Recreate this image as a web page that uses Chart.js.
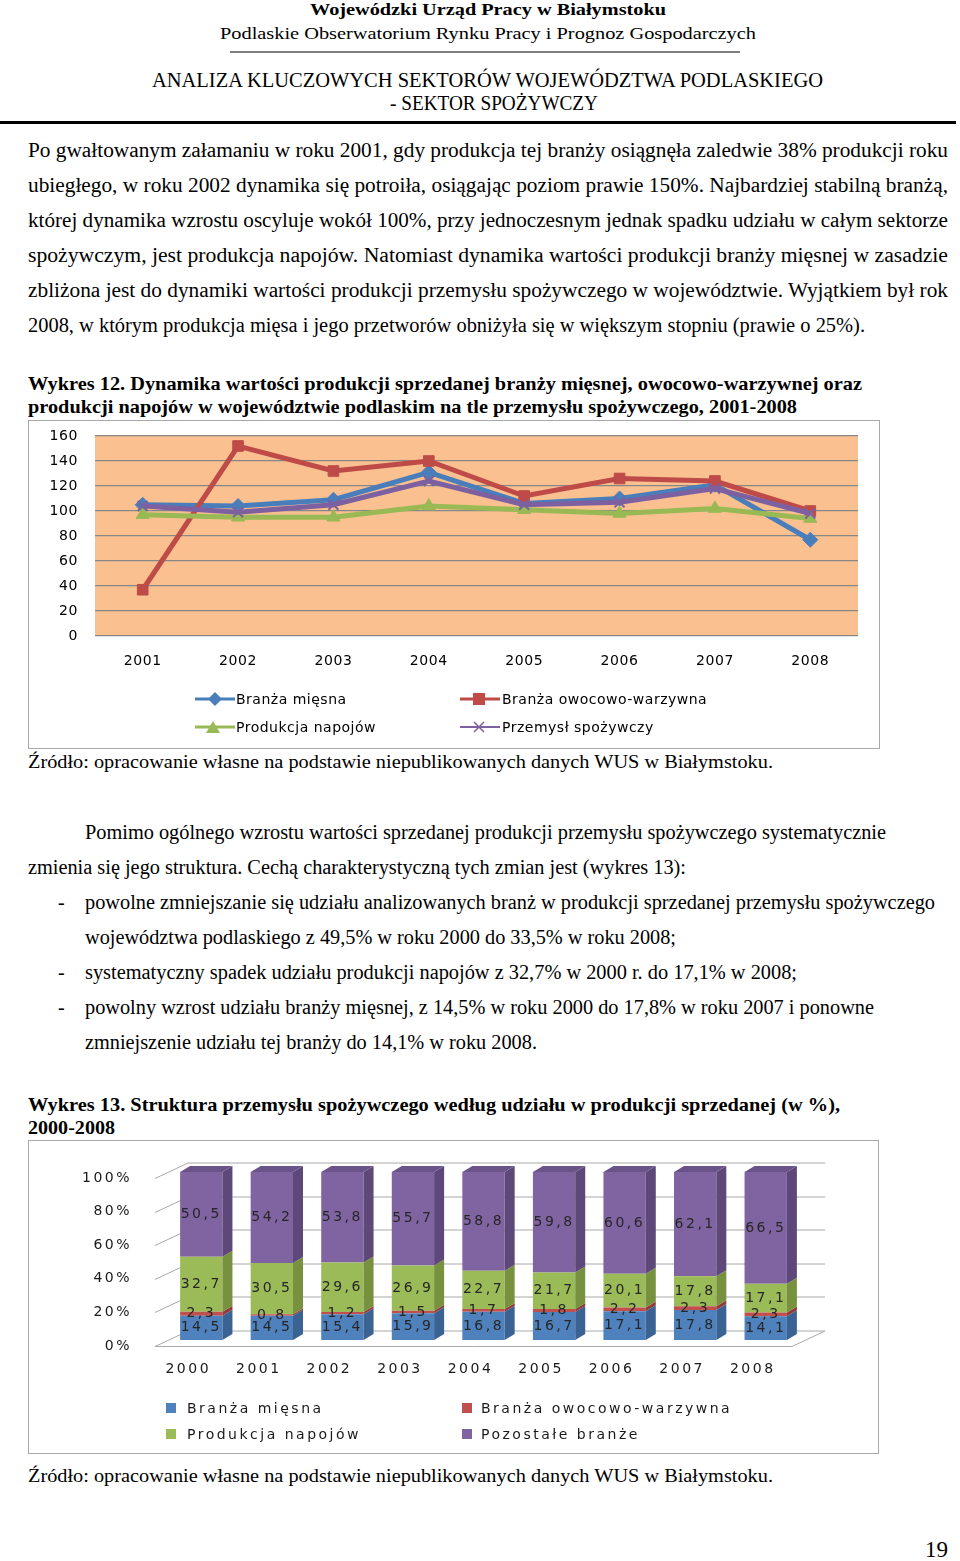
<!DOCTYPE html>
<html lang="pl">
<head>
<meta charset="utf-8">
<title>Wykres 12 i 13</title>
<script src="https://cdn.jsdelivr.net/npm/chart.js@4.4.1/dist/chart.umd.min.js"></script>
<style>
html, body { margin: 0; padding: 0; background: #fff; }
body { width: 960px; height: 1561px; position: relative; overflow: hidden;
       font-family: "Liberation Serif", "Times New Roman", serif; color: #000; }
.t { position: absolute; white-space: nowrap; line-height: 24px; font-size: 20px; transform-origin: 0 50%; }
.h { font-size: 17px; }
.c { font-size: 19px; font-weight: bold; }
.s { font-size: 19px; }
.b17 { font-weight: bold; }
.rule { position: absolute; }
.box { position: absolute; border: 1.5px solid #a9a9a9; box-sizing: border-box; background: #fff; }
.box canvas { position: absolute; left: 0; top: 0; }
.lg { position: absolute; font-family: "DejaVu Sans", sans-serif; font-size: 14px; line-height: 18px; white-space: nowrap; }
.lg1 { letter-spacing: 0.5px; }
.lg2 { letter-spacing: 2.5px; color: #1a1a1a; }
.mk { position: absolute; }
.sq { position: absolute; width: 10px; height: 10px; }
</style>
</head>
<body>

<!-- ========== NAGŁÓWEK ========== -->
<div class="t h b17" style="left:310px;top:-2px" data-w="356">Wojewódzki Urząd Pracy w Białymstoku</div>
<div class="t h" style="left:220px;top:22px" data-w="536">Podlaskie Obserwatorium Rynku Pracy i Prognoz Gospodarczych</div>
<div class="rule" style="left:230px;top:51px;width:510px;height:2px;background:#7f7f7f"></div>
<div class="t" style="left:152px;top:68px" data-w="671">ANALIZA KLUCZOWYCH SEKTORÓW WOJEWÓDZTWA PODLASKIEGO</div>
<div class="t" style="left:390px;top:91px" data-w="208">- SEKTOR SPOŻYWCZY</div>
<div class="rule" style="left:0;top:121px;width:956px;height:3px;background:#000"></div>

<!-- ========== TEKST 1 ========== -->
<div class="t" style="left:28px;top:138px" data-w="920">Po gwałtowanym załamaniu w roku 2001, gdy produkcja tej branży osiągnęła zaledwie 38% produkcji roku</div>
<div class="t" style="left:28px;top:173px" data-w="920">ubiegłego, w roku 2002 dynamika się potroiła, osiągając poziom prawie 150%. Najbardziej stabilną branżą,</div>
<div class="t" style="left:28px;top:208px" data-w="920">której dynamika wzrostu oscyluje wokół 100%, przy jednoczesnym jednak spadku udziału w całym sektorze</div>
<div class="t" style="left:28px;top:243px" data-w="920">spożywczym, jest produkcja napojów. Natomiast dynamika wartości produkcji branży mięsnej w zasadzie</div>
<div class="t" style="left:28px;top:278px" data-w="920">zbliżona jest do dynamiki wartości produkcji przemysłu spożywczego w województwie. Wyjątkiem był rok</div>
<div class="t" style="left:28px;top:313px" data-w="837">2008, w którym  produkcja mięsa i jego przetworów obniżyła się w większym stopniu (prawie o 25%).</div>

<div class="t c" style="left:28px;top:372px" data-w="834">Wykres 12. Dynamika wartości produkcji sprzedanej branży mięsnej, owocowo-warzywnej oraz</div>
<div class="t c" style="left:28px;top:395px" data-w="769">produkcji napojów w województwie podlaskim na tle przemysłu spożywczego, 2001-2008</div>

<!-- ========== WYKRES 12 ========== -->
<div class="box" style="left:28px;top:420px;width:852px;height:329px">
  <canvas id="chart12" width="849" height="326" style="width:849px;height:326px"></canvas>
</div>
<svg class="mk" style="left:194px;top:691px" width="42" height="16"><line x1="1" y1="8" x2="41" y2="8" stroke="#4a7ebb" stroke-width="3"/><polygon points="21,1 28,8 21,15 14,8" fill="#4a7ebb"/></svg>
<div class="lg lg1" style="left:236px;top:690px">Branża mięsna</div>
<svg class="mk" style="left:459px;top:691px" width="42" height="16"><line x1="1" y1="8" x2="41" y2="8" stroke="#be4b48" stroke-width="3"/><rect x="14" y="2" width="12" height="12" fill="#be4b48"/></svg>
<div class="lg lg1" style="left:502px;top:690px">Branża owocowo-warzywna</div>
<svg class="mk" style="left:194px;top:719px" width="42" height="16"><line x1="1" y1="8" x2="41" y2="8" stroke="#98b954" stroke-width="3"/><polygon points="19,2 26,14 12,14" fill="#98b954"/></svg>
<div class="lg lg1" style="left:236px;top:718px">Produkcja napojów</div>
<svg class="mk" style="left:459px;top:719px" width="42" height="16"><line x1="1" y1="8" x2="41" y2="8" stroke="#7d60a0" stroke-width="2"/><path d="M15 3 L25 13 M25 3 L15 13" stroke="#7d60a0" stroke-width="1.5"/></svg>
<div class="lg lg1" style="left:502px;top:718px">Przemysł spożywczy</div>

<div class="t s" style="left:28px;top:750px" data-w="745">Źródło: opracowanie własne na podstawie niepublikowanych danych WUS w Białymstoku.</div>

<!-- ========== TEKST 2 ========== -->
<div class="t" style="left:85px;top:820px" data-w="801">Pomimo ogólnego wzrostu wartości sprzedanej produkcji przemysłu spożywczego systematycznie</div>
<div class="t" style="left:28px;top:855px" data-w="658">zmienia się jego struktura. Cechą charakterystyczną tych zmian jest (wykres 13):</div>
<div class="t" style="left:58px;top:890px">-</div>
<div class="t" style="left:85px;top:890px" data-w="850">powolne zmniejszanie się udziału analizowanych branż w produkcji sprzedanej przemysłu spożywczego</div>
<div class="t" style="left:85px;top:925px" data-w="591">województwa podlaskiego z 49,5% w roku 2000 do 33,5% w roku 2008;</div>
<div class="t" style="left:58px;top:960px">-</div>
<div class="t" style="left:85px;top:960px" data-w="712">systematyczny spadek udziału produkcji napojów z 32,7% w 2000 r. do 17,1% w 2008;</div>
<div class="t" style="left:58px;top:995px">-</div>
<div class="t" style="left:85px;top:995px" data-w="789">powolny wzrost udziału branży mięsnej, z 14,5% w roku 2000 do 17,8% w roku 2007 i ponowne</div>
<div class="t" style="left:85px;top:1030px" data-w="452">zmniejszenie udziału tej branży do 14,1% w roku 2008.</div>

<div class="t c" style="left:28px;top:1093px" data-w="812">Wykres 13. Struktura przemysłu spożywczego według udziału w produkcji sprzedanej (w %),</div>
<div class="t c" style="left:28px;top:1116px" data-w="87">2000-2008</div>

<!-- ========== WYKRES 13 ========== -->
<div class="box" style="left:28px;top:1140px;width:851px;height:314px">
  <canvas id="chart13" width="848" height="311" style="width:848px;height:311px"></canvas>
</div>
<div class="sq" style="left:166px;top:1403px;background:#4f81bd"></div>
<div class="lg lg2" style="left:187px;top:1399px">Branża mięsna</div>
<div class="sq" style="left:462px;top:1403px;background:#c0504d"></div>
<div class="lg lg2" style="left:481px;top:1399px">Branża owocowo-warzywna</div>
<div class="sq" style="left:166px;top:1429px;background:#9bbb59"></div>
<div class="lg lg2" style="left:187px;top:1425px">Produkcja napojów</div>
<div class="sq" style="left:462px;top:1429px;background:#8064a2"></div>
<div class="lg lg2" style="left:481px;top:1425px">Pozostałe branże</div>

<div class="t s" style="left:28px;top:1464px" data-w="745">Źródło: opracowanie własne na podstawie niepublikowanych danych WUS w Białymstoku.</div>

<div class="t" style="left:925px;top:1536px;font-size:23px;line-height:28px" data-w="23">19</div>

<script>
/* ========== DANE: WYKRES 12 (dynamika, rok poprzedni = 100) ========== */
const years12 = ['2001', '2002', '2003', '2004', '2005', '2006', '2007', '2008'];
const miesna12 = [105, 104, 109, 131, 106, 110, 121, 77];
const owocowo12 = [37, 152, 132, 140, 112, 126, 124, 100];
const napoje12 = [97, 95, 95, 104, 101, 98, 102, 94];
const przemysl12 = [104, 99, 105, 124, 105, 107, 118, 98];
const yTicks12 = [0, 20, 40, 60, 80, 100, 120, 140, 160];

/* ========== DANE: WYKRES 13 (struktura, %) ========== */
const years13 = ['2000', '2001', '2002', '2003', '2004', '2005', '2006', '2007', '2008'];
const miesna13 = [14.5, 14.5, 15.4, 15.9, 16.8, 16.7, 17.1, 17.8, 14.1];
const owocowo13 = [2.3, 0.8, 1.2, 1.5, 1.7, 1.8, 2.2, 2.3, 2.3];
const napoje13 = [32.7, 30.5, 29.6, 26.9, 22.7, 21.7, 20.1, 17.8, 17.1];
const pozostale13 = [50.5, 54.2, 53.8, 55.7, 58.8, 59.8, 60.6, 62.1, 66.5];
const yTicks13 = [0, 20, 40, 60, 80, 100];

/* ========== dopasowanie szerokości linii tekstu ========== */
document.querySelectorAll('[data-w]').forEach(el => {
    const w = el.getBoundingClientRect().width;
    el.style.transform = 'scaleX(' + (+el.dataset.w / w) + ')';
});

const font = { family: 'DejaVu Sans', size: 14 };

// stała szerokość osi Y, bez dodatkowego marginesu od etykiet
function fixY(width) {
    return s => { s.width = width; s.paddingTop = 0; s.paddingBottom = 0; };
}

/* ========== WYKRES 12 ========== */
const orangeBg = {
    id: 'orangeBg',
    beforeDraw(chart) {
        const { ctx, chartArea: a } = chart;
        ctx.letterSpacing = '0.6px';
        ctx.save();
        ctx.fillStyle = '#fac090';
        ctx.fillRect(a.left, a.top, a.right - a.left, a.bottom - a.top);
        ctx.restore();
    }
};

function lineSet(label, data, color, style, order) {
    return {
        label, data, order,
        borderColor: color,
        backgroundColor: color,
        borderWidth: 5,
        tension: 0,
        pointStyle: style,
        pointRadius: style === 'crossRot' ? 7 : 7.5,
        pointBorderWidth: style === 'crossRot' ? 2 : 1,
        pointBorderColor: color,
        pointBackgroundColor: color
    };
}

new Chart(document.getElementById('chart12'), {
    type: 'line',
    data: {
        labels: years12,
        datasets: [
            lineSet('Branża mięsna', miesna12, '#4a7ebb', 'rectRot', 4),
            lineSet('Branża owocowo-warzywna', owocowo12, '#be4b48', 'rect', 3),
            lineSet('Produkcja napojów', napoje12, '#98b954', 'triangle', 2),
            lineSet('Przemysł spożywczy', przemysl12, '#7d60a0', 'crossRot', 1)
        ]
    },
    options: {
        responsive: false,
        animation: false,
        layout: { padding: { top: 15, right: 20, left: 0, bottom: 0 } },
        plugins: { legend: { display: false }, tooltip: { enabled: false } },
        scales: {
            x: {
                offset: true,
                grid: { display: false, drawTicks: false },
                border: { display: false },
                ticks: { color: '#000', font, padding: 17 },
                afterFit(s) { s.height = 111; }
            },
            y: {
                min: 0,
                max: 160,
                afterBuildTicks(s) { s.ticks = yTicks12.map(v => ({ value: v })); },
                grid: { color: '#878787', lineWidth: 1.3, drawTicks: false },
                border: { display: false },
                ticks: { color: '#000', font, padding: 17 },
                afterFit: fixY(66)
            }
        }
    },
    plugins: [orangeBg]
});

/* ========== WYKRES 13 (słupki 3D) ========== */
const DX = 10, DY = -6;
const sideColors = ['#3a6394', '#923c3a', '#77913f', '#5d4879'];
const topColor = '#6a5389';

const wall3d = {
    id: 'wall3d',
    beforeDraw(chart) {
        chart.ctx.letterSpacing = '2.5px';
    },
    beforeDatasetsDraw(chart) {
        const { ctx, chartArea: a, scales: { y } } = chart;
        const x0 = a.left - 11, x1 = a.left + 22, xr = a.right + 24;
        ctx.save();
        ctx.strokeStyle = '#a8a8a8';
        ctx.lineWidth = 1;
        yTicks13.forEach(v => {
            const py = Math.round(y.getPixelForValue(v)) + 0.5;
            ctx.beginPath();
            ctx.moveTo(x0, py + 6);
            ctx.lineTo(x1, py - 9.5);
            ctx.lineTo(xr, py - 9.5);
            ctx.stroke();
        });
        const p0 = Math.round(y.getPixelForValue(0)) + 0.5;
        ctx.beginPath();
        ctx.moveTo(x0, p0 + 6);
        ctx.lineTo(xr - 33, p0 + 6);
        ctx.lineTo(xr, p0 - 9.5);
        ctx.stroke();
        ctx.restore();
    },
    afterDatasetsDraw(chart) {
        const { ctx } = chart;
        const n = chart.data.datasets.length;
        ctx.save();
        chart.data.datasets.forEach((ds, i) => {
            chart.getDatasetMeta(i).data.forEach(el => {
                const { x, y, base, width } = el.getProps(['x', 'y', 'base', 'width'], true);
                const r = x + width / 2, l = x - width / 2;
                ctx.fillStyle = sideColors[i];
                ctx.beginPath();
                ctx.moveTo(r, y);
                ctx.lineTo(r + DX, y + DY);
                ctx.lineTo(r + DX, base + DY);
                ctx.lineTo(r, base);
                ctx.closePath();
                ctx.fill();
                if (i === n - 1) {
                    ctx.fillStyle = topColor;
                    ctx.beginPath();
                    ctx.moveTo(l, y);
                    ctx.lineTo(l + DX, y + DY);
                    ctx.lineTo(r + DX, y + DY);
                    ctx.lineTo(r, y);
                    ctx.closePath();
                    ctx.fill();
                }
            });
        });
        // etykiety danych
        ctx.font = '14px "DejaVu Sans"';
        ctx.fillStyle = '#262626';
        ctx.textAlign = 'center';
        ctx.textBaseline = 'middle';
        chart.data.datasets.forEach((ds, i) => {
            chart.getDatasetMeta(i).data.forEach((el, j) => {
                const { x, y, base } = el.getProps(['x', 'y', 'base'], true);
                ctx.fillText(String(ds.data[j]).replace('.', ','), x, (y + base) / 2);
            });
        });
        ctx.restore();
    }
};

new Chart(document.getElementById('chart13'), {
    type: 'bar',
    data: {
        labels: years13,
        datasets: [
            { label: 'Branża mięsna', data: miesna13, backgroundColor: '#4f81bd' },
            { label: 'Branża owocowo-warzywna', data: owocowo13, backgroundColor: '#c0504d' },
            { label: 'Produkcja napojów', data: napoje13, backgroundColor: '#9bbb59' },
            { label: 'Pozostałe branże', data: pozostale13, backgroundColor: '#8064a2' }
        ]
    },
    options: {
        responsive: false,
        animation: false,
        barPercentage: 0.6,
        categoryPercentage: 1,
        layout: { padding: { top: 31, right: 76, left: 0, bottom: 0 } },
        plugins: { legend: { display: false }, tooltip: { enabled: false } },
        scales: {
            x: {
                stacked: true,
                grid: { display: false, drawTicks: false },
                border: { display: false },
                ticks: { color: '#1a1a1a', font, padding: 21, labelOffset: -13 },
                afterFit(s) { s.height = 112; }
            },
            y: {
                stacked: true,
                min: 0,
                max: 100,
                afterBuildTicks(s) { s.ticks = yTicks13.map(v => ({ value: v })); },
                grid: { display: false, drawTicks: false },
                border: { display: false },
                ticks: { color: '#1a1a1a', font, padding: 34, labelOffset: 6, callback: v => v + '%' },
                afterFit: fixY(137)
            }
        }
    },
    plugins: [wall3d]
});
</script>
</body>
</html>
